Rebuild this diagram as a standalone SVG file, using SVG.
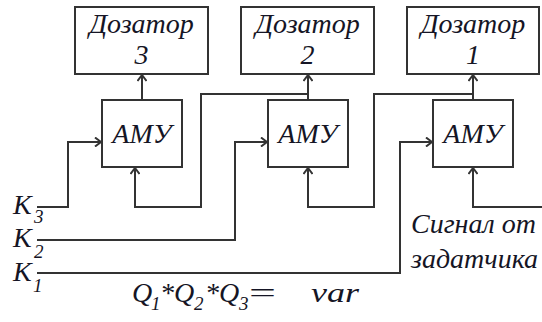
<svg xmlns="http://www.w3.org/2000/svg" width="542" height="322" viewBox="0 0 542 322">
<style>
.box{fill:#fff;stroke:#333;stroke-width:2}
.ln{fill:none;stroke:#333;stroke-width:2}
text{font-family:"Liberation Serif","Times New Roman",serif;font-style:italic;font-size:28px;fill:#151525}
.c{text-anchor:middle}
.sub{font-size:19px}
</style>
<defs>
<marker id="ar" viewBox="0 0 10 10" refX="10" refY="5" markerWidth="10" markerHeight="10" markerUnits="userSpaceOnUse" orient="auto">
<polyline points="4,0.5 10,5 4,9.5" fill="none" stroke="#333" stroke-width="2"/>
</marker>
</defs>
<rect width="542" height="322" fill="#fff"/>
<g id="connectors">
<path class="ln" d="M142,100 V75" marker-end="url(#ar)"/>
<path class="ln" d="M308,100 V75" marker-end="url(#ar)"/>
<path class="ln" d="M473,100 V75" marker-end="url(#ar)"/>
<path class="ln" d="M308,94 H201 V207 H135 V168" marker-end="url(#ar)"/>
<path class="ln" d="M473,94 H374 V207 H308 V168" marker-end="url(#ar)"/>
<path class="ln" d="M542,207 H473 V168" marker-end="url(#ar)"/>
<path class="ln" d="M37,207 H68 V142 H101" marker-end="url(#ar)"/>
<path class="ln" d="M37,240 H235 V142 H267" marker-end="url(#ar)"/>
<path class="ln" d="M37,273 H400 V142 H432" marker-end="url(#ar)"/>
</g>
<g id="dozator3"><rect class="box" x="75" y="7" width="133" height="67"/><text class="c" x="141.5" y="33">Дозатор</text><text class="c" x="141.5" y="64">3</text></g>
<g id="dozator2"><rect class="box" x="241" y="7" width="133" height="67"/><text class="c" x="307.5" y="33">Дозатор</text><text class="c" x="307.5" y="64">2</text></g>
<g id="dozator1"><rect class="box" x="407" y="7" width="132" height="67"/><text class="c" x="473" y="33">Дозатор</text><text class="c" x="473" y="64">1</text></g>
<g id="amu3"><rect class="box" x="102" y="100" width="80" height="67"/><text class="c" x="142" y="143">АМУ</text></g>
<g id="amu2"><rect class="box" x="268" y="100" width="80" height="67"/><text class="c" x="308" y="143">АМУ</text></g>
<g id="amu1"><rect class="box" x="433" y="100" width="80" height="67"/><text class="c" x="473" y="143">АМУ</text></g>
<g id="labels">
<text x="13" y="214">K<tspan class="sub" x="34" y="223">3</tspan></text>
<text x="13" y="247">K<tspan class="sub" x="34" y="258">2</tspan></text>
<text x="13" y="281">K<tspan class="sub" x="33" y="292">1</tspan></text>
<text x="411" y="233">Сигнал от</text>
<text x="411" y="268">задатчика</text>
<text y="302"><tspan x="132">Q</tspan><tspan class="sub" x="151" y="310">1</tspan><tspan x="160" y="302">*</tspan><tspan x="174">Q</tspan><tspan class="sub" x="194" y="310">2</tspan><tspan x="205" y="302">*</tspan><tspan x="219">Q</tspan><tspan class="sub" x="239" y="310">3</tspan></text>
<text x="249" y="302" style="font-style:normal" textLength="27" lengthAdjust="spacingAndGlyphs">=</text>
<text x="311" y="302" textLength="48" lengthAdjust="spacingAndGlyphs">var</text>
</g>
</svg>
